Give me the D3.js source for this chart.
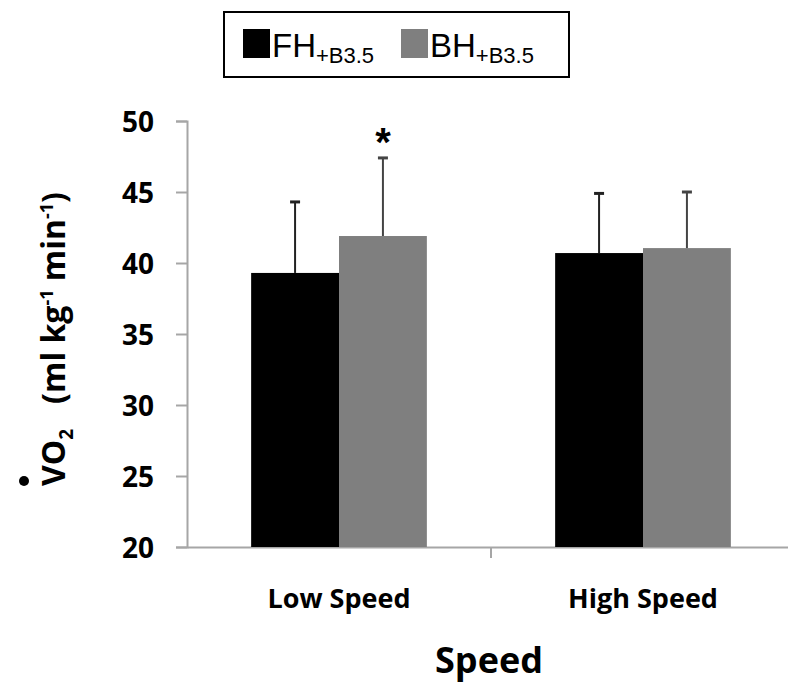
<!DOCTYPE html>
<html>
<head>
<meta charset="utf-8">
<script src="https://cdn.jsdelivr.net/npm/d3@7"></script>
<style>
  body { margin: 0; background: #fff; }
  svg { display: block; }
</style>
</head>
<body>
<div id="chart"></div>
<script>
const categories = ["Low Speed", "High Speed"];
const seriesNames = ["FH", "BH"];
const seriesColors = ["#000000", "#7f7f7f"];
const errColors = ["#222222", "#444444"];
const meansFH = [39.3, 40.7];
const meansBH = [41.9, 41.05];
const sdFH = [5.0, 4.2];
const sdBH = [5.5, 3.95];
const yTicks = [20, 25, 30, 35, 40, 45, 50];
const significant = [[false, true], [false, false]]; // [category][series]

const width = 788, height = 686;
const margin = { top: 121, right: -7, bottom: 139, left: 187 };

const svg = d3.select("#chart").append("svg")
    .attr("width", width)
    .attr("height", height);

const x0 = d3.scaleBand()
    .domain(categories)
    .range([margin.left, width - margin.right])
    .paddingInner(0)
    .paddingOuter(0);

const x1 = d3.scaleBand()
    .domain(seriesNames)
    .range([0, x0.bandwidth()])
    .paddingInner(0)
    .paddingOuter(0.73);

const y = d3.scaleLinear()
    .domain([20, 50])
    .range([height - margin.bottom, margin.top]);

const data = categories.map((c, i) => ({
    cat: c,
    vals: [
        { s: "FH", v: meansFH[i], e: sdFH[i], sig: significant[i][0] },
        { s: "BH", v: meansBH[i], e: sdBH[i], sig: significant[i][1] }
    ]
}));

// Axes
const yAxis = svg.append("g")
    .attr("transform", `translate(${margin.left},0)`)
    .call(d3.axisLeft(y).tickValues(yTicks).tickSize(11).tickPadding(22));
yAxis.select(".domain").attr("stroke", "#a6a6a6").attr("stroke-width", 2);
yAxis.selectAll(".tick line").attr("stroke", "#a6a6a6").attr("stroke-width", 2);
yAxis.selectAll(".tick text")
    .attr("font-family", "'Open Sans', sans-serif")
    .attr("font-weight", "bold")
    .attr("font-size", 28)
    .attr("dy", "0.36em")
    .attr("fill", "#000");

const xAxis = svg.append("g")
    .attr("transform", `translate(0,${y(20)})`)
    .call(d3.axisBottom(x0).tickSize(0).tickFormat(""));
xAxis.select(".domain").attr("stroke", "#a6a6a6").attr("stroke-width", 2);

// category separator ticks
svg.append("g").selectAll("line")
    .data(categories.slice(1))
    .join("line")
    .attr("x1", d => x0(d)).attr("x2", d => x0(d))
    .attr("y1", y(20)).attr("y2", y(20) + 11)
    .attr("stroke", "#a6a6a6").attr("stroke-width", 2);

// category labels
svg.append("g").selectAll("text")
    .data(categories)
    .join("text")
    .attr("x", d => x0(d) + x0.bandwidth() / 2)
    .attr("y", 608)
    .attr("text-anchor", "middle")
    .attr("font-family", "'Open Sans', sans-serif")
    .attr("font-weight", "bold")
    .attr("font-size", 27)
    .text(d => d);

// Bars
const groups = svg.append("g").selectAll("g")
    .data(data)
    .join("g")
    .attr("transform", d => `translate(${x0(d.cat)},0)`);

groups.selectAll("rect")
    .data(d => d.vals)
    .join("rect")
    .attr("x", d => x1(d.s))
    .attr("y", d => y(d.v))
    .attr("width", x1.bandwidth())
    .attr("height", d => y(20) - y(d.v))
    .attr("fill", (d, i) => seriesColors[i]);

// Error bars (upper only)
groups.selectAll("line.err")
    .data(d => d.vals)
    .join("line")
    .attr("class", "err")
    .attr("x1", d => x1(d.s) + x1.bandwidth() / 2)
    .attr("x2", d => x1(d.s) + x1.bandwidth() / 2)
    .attr("y1", d => y(d.v))
    .attr("y2", d => y(d.v + d.e))
    .attr("stroke", (d, i) => errColors[i])
    .attr("stroke-width", 2);

groups.selectAll("line.cap")
    .data(d => d.vals)
    .join("line")
    .attr("class", "cap")
    .attr("x1", d => x1(d.s) + x1.bandwidth() / 2 - 5)
    .attr("x2", d => x1(d.s) + x1.bandwidth() / 2 + 5)
    .attr("y1", d => y(d.v + d.e))
    .attr("y2", d => y(d.v + d.e))
    .attr("stroke", (d, i) => errColors[i])
    .attr("stroke-width", 3);

// Significance marker
groups.selectAll("text.sig")
    .data(d => d.vals.filter(v => v.sig))
    .join("text")
    .attr("class", "sig")
    .attr("x", d => x1(d.s) + x1.bandwidth() / 2)
    .attr("y", d => y(d.v + d.e) - 2)
    .attr("text-anchor", "middle")
    .attr("font-family", "'Liberation Sans', Arial, sans-serif")
    .attr("font-weight", "bold")
    .attr("font-size", 40)
    .text("*");

// Axis titles
svg.append("text")
    .attr("x", 489)
    .attr("y", 673)
    .attr("text-anchor", "middle")
    .attr("font-family", "'Open Sans', sans-serif")
    .attr("font-weight", "bold")
    .attr("font-size", 36)
    .text("Speed");

const yTitle = svg.append("text")
    .attr("transform", "translate(65,339) rotate(-90)")
    .attr("text-anchor", "middle")
    .attr("font-family", "'Open Sans', sans-serif")
    .attr("font-weight", "bold")
    .attr("font-size", 32);
yTitle.append("tspan").text("VO");
yTitle.append("tspan").attr("font-size", 19).attr("dy", 8).text("2");
yTitle.append("tspan").attr("dy", -8).text("\u00a0\u00a0\u00a0(ml kg");
yTitle.append("tspan").attr("font-size", 18).attr("dy", -12).text("-1");
yTitle.append("tspan").attr("dy", 12).text("\u00a0min");
yTitle.append("tspan").attr("font-size", 18).attr("dy", -12).text("-1");
yTitle.append("tspan").attr("dy", 12).text(")");

// dot over V (rate notation)
svg.append("circle")
    .attr("cx", 24)
    .attr("cy", 481)
    .attr("r", 5)
    .attr("fill", "#000");

// Legend
const legend = svg.append("g");
legend.append("rect")
    .attr("x", 224).attr("y", 12)
    .attr("width", 345).attr("height", 65)
    .attr("fill", "#fff")
    .attr("stroke", "#000")
    .attr("stroke-width", 2);

const legendX = [243, 401];
seriesNames.forEach((name, i) => {
    legend.append("rect")
        .attr("x", legendX[i]).attr("y", 29)
        .attr("width", 27).attr("height", 29)
        .attr("fill", seriesColors[i]);
    const t = legend.append("text")
        .attr("x", legendX[i] + 29)
        .attr("y", 57)
        .attr("font-family", "'Liberation Sans', Arial, sans-serif")
        .attr("font-size", 33)
        .attr("fill", "#000");
    t.append("tspan").text(name);
    t.append("tspan").attr("font-size", 22).attr("dy", 6).text("+B3.5");
});
</script>
</body>
</html>
